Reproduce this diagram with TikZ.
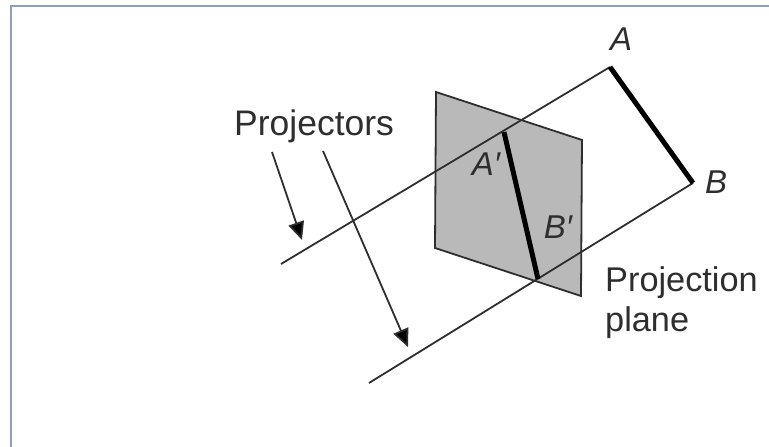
\documentclass[tikz,border=0pt]{standalone}
\usepackage{fontspec}
\setmainfont{Liberation Sans}
\usetikzlibrary{arrows.meta}
\definecolor{framegray}{HTML}{8F9FB5}
\definecolor{planegray}{HTML}{B9B9B9}
\definecolor{inkgray}{HTML}{2E2E2E}

\begin{document}
\begin{tikzpicture}[x=1pt, y=-1pt, every node/.style={font=\fontsize{35.5}{40}\selectfont, text=inkgray, inner sep=0pt},
	thinline/.style={inkgray, line width=1.8pt},
	segline/.style={black, line width=5pt},
	ptlabel/.style={font=\fontsize{33}{38}\selectfont\itshape},
	planelabel/.style={font=\fontsize{34.3}{40}\selectfont},
	pointer/.style={inkgray, line width=1.8pt, -{Triangle[length=18pt,width=16pt,fill=black]}}]
	\useasboundingbox (0,0) rectangle (769,447);
	\draw[framegray, line width=2pt] (11,447) -- (11,6) -- (769,6);
	% plane corners
	\coordinate (p1) at (436,92);
	\coordinate (p2) at (582,140);
	\coordinate (p3) at (581,296);
	\coordinate (p4) at (435,248);
	\filldraw[fill=planegray, draw=inkgray, line width=1.8pt] (p1) -- (p2) -- (p3) -- (p4) -- cycle;
	% object and its image
	\coordinate (ptA) at (610,67);
	\coordinate (ptB) at (693,183);
	\coordinate (ptAp) at (504,132);
	\coordinate (ptBp) at (538,279);
	\coordinate (endA) at (281,264);
	\coordinate (endB) at (369,383);
	\draw[thinline] (ptA) -- (endA);
	\draw[thinline] (ptB) -- (endB);
	\draw[segline] (ptA) -- (ptB);
	\draw[segline] (ptAp) -- (ptBp);
	\node[ptlabel, anchor=base] (lblA) at (621,50) {A};
	\node[ptlabel, anchor=base] (lblB) at (716,193) {B};
	\node[ptlabel, anchor=base] (lblAp) at (486,175) {A\char"2032};
	\node[ptlabel, anchor=base] (lblBp) at (558,238) {B\char"2032};
	% labels
	\node[anchor=base west] (projectors) at (234,135) {Projectors};
	\node[planelabel, anchor=base west] (projection) at (605,291) {Projection};
	\node[planelabel, anchor=base west] (planelbl) at (605,331) {plane};
	% arrows
	\coordinate (from1) at (272,152);
	\coordinate (tip1) at (302,240);
	\coordinate (from2) at (323,151);
	\coordinate (tip2) at (408,347);
	\draw[pointer] (from1) -- (tip1);
	\draw[pointer] (from2) -- (tip2);
\end{tikzpicture}
\end{document}
